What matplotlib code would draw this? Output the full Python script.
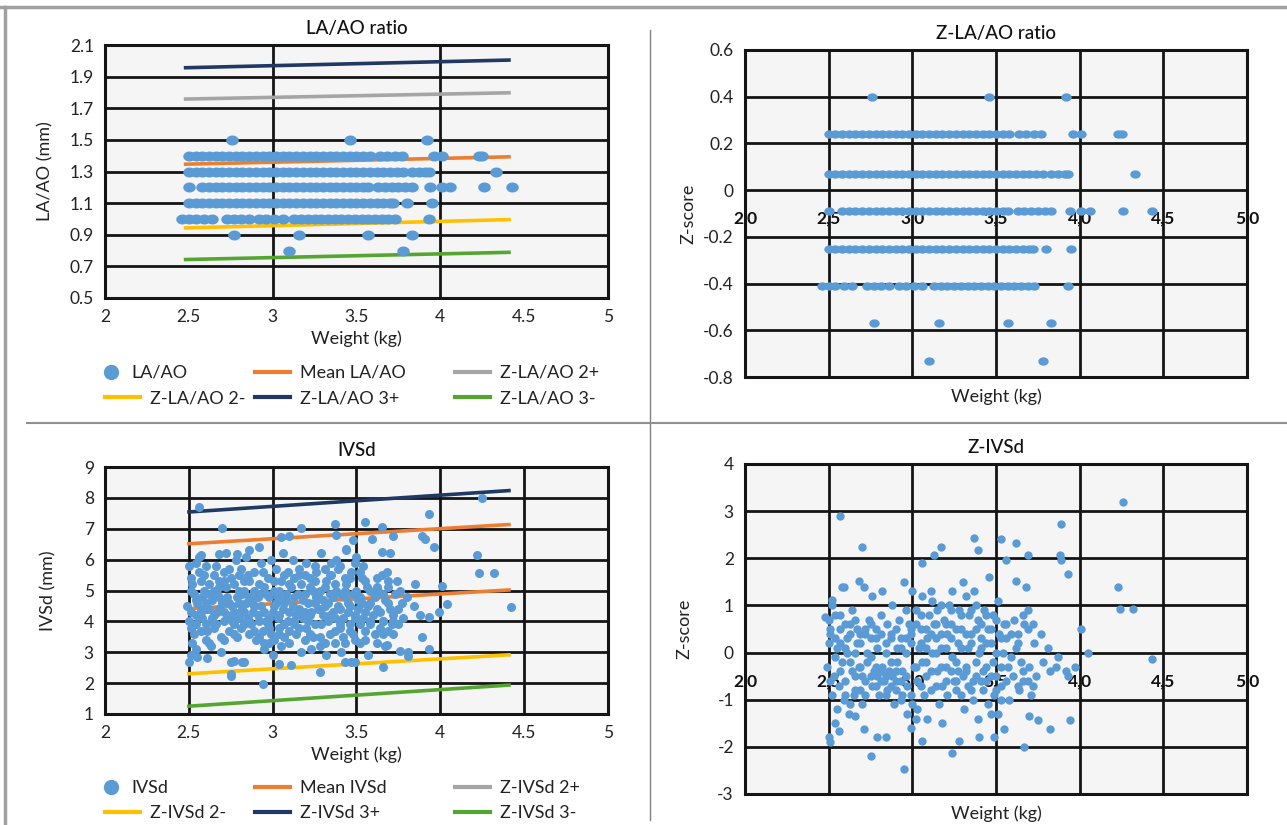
import matplotlib
matplotlib.use('Agg')
import numpy as np
import matplotlib.pyplot as plt
from matplotlib.lines import Line2D
from matplotlib.path import Path

plt.rcParams['font.family'] = ['Lato', 'DejaVu Sans']
plt.rcParams['axes.unicode_minus'] = False

# ---------------- DATA ----------------
# LA/AO ratio: discrete levels, weights of the points on each level
laao_levels = [1.5, 1.4, 1.3, 1.2, 1.1, 1.0, 0.9, 0.8]
z_laao_levels = [0.40, 0.24, 0.07, -0.09, -0.25, -0.41, -0.57, -0.73]
w_15 = [2.76, 3.46, 3.92]
w_14 = [2.50, 2.54, 2.58, 2.62, 2.66, 2.70, 2.74, 2.78, 2.82, 2.86, 2.90, 2.94,
        2.98, 3.02, 3.06, 3.10, 3.14, 3.18, 3.22, 3.26, 3.30, 3.34, 3.38, 3.42,
        3.46, 3.50, 3.54, 3.58, 3.64, 3.68, 3.73, 3.77, 3.96, 4.01, 4.23, 4.25]
w_13 = [2.50, 2.54, 2.58, 2.62, 2.66, 2.70, 2.74, 2.78, 2.82, 2.86, 2.90, 2.94,
        2.98, 3.02, 3.06, 3.10, 3.14, 3.18, 3.22, 3.26, 3.30, 3.34, 3.38, 3.42,
        3.46, 3.50, 3.54, 3.58, 3.62, 3.66, 3.70, 3.74, 3.78, 3.83, 3.87, 3.91,
        3.93, 4.33]
w_12 = [2.50, 2.58, 2.62, 2.66, 2.70, 2.74, 2.78, 2.82, 2.86, 2.90, 2.94, 2.98,
        3.02, 3.06, 3.10, 3.14, 3.18, 3.22, 3.26, 3.30, 3.34, 3.38, 3.42, 3.46,
        3.50, 3.54, 3.57, 3.63, 3.67, 3.71, 3.75, 3.79, 3.83, 3.94, 4.01, 4.06,
        4.26, 4.43]
w_11 = [2.50, 2.54, 2.58, 2.62, 2.66, 2.70, 2.74, 2.78, 2.82, 2.86, 2.90, 2.94,
        2.98, 3.02, 3.06, 3.10, 3.14, 3.18, 3.22, 3.26, 3.30, 3.34, 3.38, 3.42,
        3.46, 3.50, 3.54, 3.58, 3.62, 3.66, 3.70, 3.72, 3.80, 3.95]
w_10 = [2.46, 2.50, 2.54, 2.59, 2.64, 2.73, 2.77, 2.81, 2.86, 2.92, 2.96, 3.01,
        3.06, 3.13, 3.17, 3.21, 3.25, 3.29, 3.33, 3.37, 3.41, 3.45, 3.49, 3.53,
        3.57, 3.61, 3.65, 3.69, 3.73, 3.93]
w_09 = [2.77, 3.16, 3.57, 3.83]
w_08 = [3.10, 3.78]
laao_weights = [w_15, w_14, w_13, w_12, w_11, w_10, w_09, w_08]

# reference lines (start / end weight)
line_w = [2.47, 4.42]
laao_mean = [1.346, 1.393]
laao_z2p = [1.758, 1.798]
laao_z2m = [0.943, 0.996]
laao_z3p = [1.956, 2.005]
laao_z3m = [0.743, 0.789]

ivsd_line_w = [2.49, 4.42]
ivsd_mean = [4.41, 5.02]
ivsd_z2p = [6.51, 7.14]
ivsd_z2m = [2.30, 2.92]
ivsd_z3p = [7.54, 8.24]
ivsd_z3m = [1.25, 1.94]

# IVSd scatter (weight kg, IVSd mm)
ivsd_weight = [
    2.50, 2.49, 2.51, 2.50, 2.52, 2.53, 2.52, 2.54, 2.53, 2.51,
    2.55, 2.56, 2.54, 2.57, 2.56, 2.58, 2.59, 2.60, 2.58, 2.59,
    2.61, 2.60, 2.62, 2.61, 2.63, 2.64, 2.63, 2.65, 2.64, 2.66,
    2.67, 2.66, 2.68, 2.67, 2.69, 2.70, 2.71, 2.69, 2.71, 2.72,
    2.73, 2.72, 2.74, 2.73, 2.75, 2.76, 2.75, 2.77, 2.76, 2.78, 2.75,
    2.79, 2.78, 2.80, 2.79, 2.81, 2.82, 2.81, 2.83, 2.82, 2.84,
    2.85, 2.84, 2.86, 2.85, 2.83, 2.88, 2.87, 2.89, 2.88, 2.86,
    2.91, 2.90, 2.92, 2.91, 2.93, 2.94, 2.93, 2.95, 2.94, 2.96,
    2.97, 2.96, 2.98, 2.97, 2.99, 3.00, 2.99, 3.01, 3.00, 3.02,
    3.03, 3.02, 3.04, 3.03, 3.05, 3.06, 3.05, 3.07, 3.06, 3.08,
    3.09, 3.08, 3.10, 3.09, 3.11, 3.12, 3.11, 3.13, 3.12, 3.14,
    3.15, 3.14, 3.16, 3.15, 3.17, 3.18, 3.17, 3.19, 3.18, 3.20,
    3.21, 3.20, 3.22, 3.21, 3.23, 3.24, 3.23, 3.25, 3.24, 3.26,
    3.27, 3.26, 3.28, 3.27, 3.29, 3.30, 3.29, 3.31, 3.30, 3.32,
    3.33, 3.32, 3.34, 3.33, 3.35, 3.36, 3.35, 3.37, 3.36, 3.38,
    3.39, 3.38, 3.40, 3.39, 3.41, 3.42, 3.41, 3.43, 3.42, 3.44,
    3.45, 3.44, 3.46, 3.45, 3.47, 3.48, 3.47, 3.49, 3.48, 3.50,
    3.51, 3.50, 3.52, 3.51, 3.53, 3.54, 3.53, 3.55, 3.54,
    3.57, 3.56, 3.58, 3.57, 3.61, 3.60, 3.62, 3.61,
    3.64, 3.63, 3.65, 3.64, 3.67, 3.66, 3.68, 3.67,
    3.70, 3.69, 3.71, 3.70, 3.73, 3.72, 3.74, 3.77, 3.76, 3.78,
    3.80, 3.81, 3.84, 3.85, 3.88, 3.89,
    2.56, 2.70, 3.17, 3.37, 3.38, 3.55, 3.65, 3.72, 3.59, 3.93,
    3.89, 3.91, 3.96, 4.25, 4.22, 4.23, 4.32, 4.42, 4.01, 4.04,
    3.99, 3.93, 2.94, 2.75, 3.04, 3.28, 3.66, 3.43, 3.49, 2.50,
    2.55, 2.82, 2.77, 3.81, 3.76, 3.93, 3.68, 3.65, 3.05, 3.10,
    2.92, 2.57, 2.68, 2.79, 3.44, 3.48,
    2.51, 2.51, 2.51, 2.54, 2.54, 2.54, 2.57, 2.57, 2.57, 2.60, 2.60, 2.60,
    2.62, 2.62, 2.62, 2.65, 2.65, 2.65, 2.68, 2.68, 2.68, 2.71, 2.71, 2.71,
    2.74, 2.74, 2.74, 2.77, 2.77, 2.77, 2.80, 2.80, 2.80, 2.83, 2.83, 2.83,
    2.86, 2.86, 2.86, 2.89, 2.89, 2.89, 2.92, 2.92, 2.92, 2.95, 2.95, 2.95,
    2.98, 2.98, 2.98, 3.01, 3.01, 3.01, 3.04, 3.04, 3.04, 3.07, 3.07, 3.07,
    3.10, 3.10, 3.10, 3.13, 3.13, 3.13, 3.16, 3.16, 3.16, 3.19, 3.19, 3.19,
    3.22, 3.22, 3.22, 3.25, 3.25, 3.25, 3.28, 3.28, 3.28, 3.31, 3.31, 3.31,
    3.34, 3.34, 3.34, 3.37, 3.37, 3.37, 3.40, 3.40, 3.40, 3.43, 3.43, 3.43,
    3.46, 3.46, 3.46, 3.49, 3.49, 3.49, 3.52, 3.52, 3.52, 3.55, 3.55, 3.55,
    3.58, 3.58, 3.58, 3.62, 3.62, 3.62, 3.66, 3.66, 3.66, 3.69, 3.69, 3.69,
    3.72, 3.72, 3.75, 3.75]
ivsd_mm = [
    4.0, 4.5, 5.4, 5.8, 3.3, 4.9, 5.2, 4.2, 3.6, 2.9,
    4.6, 5.6, 3.9, 4.3, 6.1, 4.1, 5.0, 3.4, 4.8, 5.5,
    3.7, 4.4, 5.2, 2.8, 4.0, 4.7, 3.2, 5.0, 4.1, 5.8,
    4.3, 3.9, 5.3, 4.9, 3.5, 4.6, 5.6, 3.0, 4.0, 6.2,
    4.2, 5.1, 3.7, 4.8, 2.7, 4.5, 5.4, 3.9, 4.0, 6.0, 2.3,
    4.8, 4.2, 5.0, 3.5, 5.7, 4.4, 3.8, 5.3, 4.9, 6.1,
    4.1, 4.6, 3.6, 5.5, 2.7, 4.7, 3.9, 5.0, 4.3, 6.3,
    4.2, 3.4, 5.2, 4.8, 5.9, 3.7, 4.5, 3.1, 5.6, 4.0,
    3.9, 4.9, 3.3, 5.4, 6.0, 4.3, 3.6, 5.0, 2.9, 4.6,
    4.8, 5.7, 3.8, 4.1, 3.2, 4.4, 5.3, 3.5, 6.2, 4.9,
    4.0, 4.7, 3.3, 5.6, 2.6, 4.5, 5.1, 3.9, 6.0, 4.2,
    4.9, 3.6, 5.5, 4.3, 3.0, 4.1, 5.2, 3.4, 4.7, 5.9,
    4.6, 3.8, 5.4, 4.0, 3.1, 5.0, 4.3, 5.8, 3.5, 4.8,
    4.4, 5.6, 3.2, 4.9, 6.2, 4.7, 3.9, 5.1, 4.2, 2.9,
    4.0, 5.3, 3.6, 4.6, 5.9, 4.8, 5.5, 3.3, 4.3, 6.0,
    4.5, 5.0, 3.8, 5.7, 3.0, 4.1, 4.9, 5.4, 3.5, 6.3,
    4.6, 5.2, 3.9, 4.3, 2.7, 4.9, 5.6, 4.2, 3.6, 6.1,
    4.4, 5.0, 3.3, 4.7, 5.4, 4.1, 4.6, 3.7, 5.8,
    4.5, 5.1, 3.9, 2.9, 4.8, 4.2, 5.4, 3.6,
    4.3, 5.0, 5.5, 3.8, 4.7, 4.0, 5.6, 3.2,
    4.4, 5.1, 3.9, 6.2, 4.9, 4.2, 5.3, 4.6, 5.0, 4.1,
    4.8, 3.0, 4.5, 5.2, 4.2, 3.5,
    7.70, 7.02, 7.02, 7.16, 6.81, 7.22, 7.05, 6.78, 6.68, 7.49,
    6.78, 6.68, 6.40, 7.99, 6.14, 5.57, 5.57, 4.46, 5.16, 4.57,
    4.30, 4.14, 1.97, 2.24, 2.62, 2.37, 2.51, 2.68, 2.68, 2.68,
    2.84, 2.68, 2.73, 2.89, 3.05, 3.11, 3.22, 6.24, 6.73, 6.78,
    6.40, 6.14, 6.19, 6.19, 6.35, 6.62,
    4.3, 5.0, 3.8, 4.7, 5.9, 3.1, 4.4, 5.3, 3.7, 4.6, 5.8, 3.9,
    4.9, 4.4, 3.3, 5.5, 4.2, 3.8, 4.8, 5.1, 4.4, 4.3, 5.3, 3.4,
    4.6, 5.7, 4.1, 5.2, 4.3, 3.6, 4.6, 5.5, 4.1, 5.0, 4.3, 3.9,
    4.8, 5.3, 4.0, 4.5, 5.6, 3.7, 4.0, 4.9, 3.5, 4.3, 5.1, 3.3,
    4.1, 4.8, 3.8, 4.5, 5.3, 3.4, 4.2, 5.0, 3.6, 4.6, 5.5, 3.9,
    4.3, 5.2, 3.7, 4.8, 5.4, 4.0, 4.4, 5.7, 3.8, 4.9, 5.5, 4.3,
    4.2, 5.1, 3.6, 4.6, 5.3, 3.9, 5.0, 4.4, 3.5, 4.5, 5.7, 3.3,
    4.9, 4.2, 5.5, 4.1, 5.2, 3.7, 4.4, 5.8, 3.9, 4.8, 5.0, 3.3,
    4.5, 5.4, 3.7, 4.1, 5.9, 3.4, 4.8, 5.6, 3.9, 4.3, 5.3, 3.4,
    4.6, 4.0, 5.0, 4.4, 5.1, 3.3, 4.0, 4.9, 3.6, 4.6, 5.3, 3.7,
    4.0, 3.6, 4.4, 3.9]

# Z-IVSd scatter (weight kg, Z-score)
zivsd_weight = [
    2.50, 2.49, 2.51, 2.50, 2.52, 2.53, 2.51, 2.52,
    2.55, 2.56, 2.54, 2.55, 2.58, 2.57, 2.59, 2.58,
    2.61, 2.60, 2.62, 2.61, 2.64, 2.63, 2.65, 2.64,
    2.67, 2.66, 2.68, 2.67, 2.70, 2.69, 2.71, 2.70,
    2.73, 2.72, 2.74, 2.73, 2.76, 2.75, 2.77, 2.76,
    2.79, 2.78, 2.80, 2.79, 2.82, 2.81, 2.83, 2.82,
    2.85, 2.84, 2.86, 2.85, 2.88, 2.87, 2.89, 2.88,
    2.91, 2.90, 2.92, 2.91, 2.94, 2.93, 2.95, 2.94,
    2.97, 2.96, 2.98, 2.97, 3.00, 2.99, 3.01, 3.00, 2.99,
    3.03, 3.02, 3.04, 3.03, 3.06, 3.05, 3.07, 3.06,
    3.09, 3.08, 3.10, 3.09, 3.12, 3.11, 3.13, 3.12,
    3.15, 3.14, 3.16, 3.15, 3.18, 3.17, 3.19, 3.18,
    3.21, 3.20, 3.22, 3.21, 3.24, 3.23, 3.25, 3.24,
    3.27, 3.26, 3.28, 3.27, 3.30, 3.29, 3.31, 3.30,
    3.33, 3.32, 3.34, 3.33, 3.36, 3.35, 3.37, 3.36,
    3.39, 3.38, 3.40, 3.39, 3.42, 3.41, 3.43, 3.42,
    3.45, 3.44, 3.46, 3.45, 3.48, 3.47, 3.49, 3.48,
    3.51, 3.50, 3.52, 3.51, 3.54, 3.53, 3.55, 3.57, 3.56, 3.58,
    3.61, 3.60, 3.62, 3.64, 3.63, 3.65, 3.67, 3.66, 3.68,
    3.70, 3.69, 3.71, 3.73, 3.74, 3.77, 3.78, 3.81, 3.82,
    3.86, 3.87, 3.92, 3.93, 3.97,
    2.57, 2.70, 4.26, 3.89, 3.53, 3.62, 3.69, 3.56, 3.88, 3.89,
    3.93, 3.37, 3.39, 3.17, 3.13, 3.06, 3.62, 4.23, 4.24, 4.32,
    4.43, 4.05, 4.01, 3.94, 3.82, 3.75, 3.70, 3.67, 3.49, 3.55,
    3.24, 3.28, 2.95, 2.75, 2.50, 2.56, 2.66, 2.71, 2.79, 2.84,
    3.06, 3.40, 2.48, 2.52, 2.59, 2.68,
    2.51, 2.51, 2.54, 2.54, 2.54, 2.57, 2.57, 2.57, 2.60, 2.60, 2.60,
    2.63, 2.63, 2.63, 2.66, 2.66, 2.66, 2.69, 2.69, 2.69, 2.72, 2.72, 2.72,
    2.75, 2.75, 2.75, 2.78, 2.78, 2.78, 2.81, 2.81, 2.81, 2.84, 2.84, 2.84,
    2.87, 2.87, 2.87, 2.90, 2.90, 2.90, 2.93, 2.93, 2.93, 2.96, 2.96, 2.96,
    2.99, 2.99, 2.99, 3.02, 3.02, 3.02, 3.05, 3.05, 3.05, 3.08, 3.08, 3.08,
    3.11, 3.11, 3.11, 3.14, 3.14, 3.14, 3.17, 3.17, 3.17, 3.20, 3.20, 3.20,
    3.23, 3.23, 3.23, 3.26, 3.26, 3.26, 3.29, 3.29, 3.29, 3.32, 3.32, 3.32,
    3.35, 3.35, 3.35, 3.38, 3.38, 3.38, 3.41, 3.41, 3.41, 3.44, 3.44, 3.44,
    3.47, 3.47, 3.47, 3.50, 3.50, 3.50, 3.53, 3.53, 3.53, 3.56, 3.56,
    3.59, 3.59, 3.63, 3.63, 3.66, 3.66, 3.69, 3.69, 3.72, 3.72]
zivsd_score = [
    0.7, -0.3, -1.9, 0.2, 1.0, -0.5, 0.4, -0.9,
    0.1, -0.7, 0.8, -1.2, -0.2, 0.5, -1.0, 1.4,
    0.3, -0.6, -1.3, 0.0, -0.4, 0.6, -0.9, 0.9,
    0.2, -0.8, -0.3, 0.5, -0.5, 0.4, 1.4, -1.1,
    0.0, -0.6, 0.7, -0.2, -0.7, 0.3, -0.4, 1.2,
    -0.5, 0.5, -0.9, 0.1, -0.3, 0.8, -0.6, 1.3,
    -0.8, 0.2, -0.4, 0.6, -0.5, 0.4, -1.1, 1.0,
    0.1, -0.6, 0.7, -0.2, -0.9, 0.3, 1.5, -0.4,
    -1.3, 0.0, 0.6, -0.7, -1.1, 0.4, -0.3, 1.3, -1.6,
    -0.6, 0.9, 0.1, -1.2, -0.2, 0.5, -0.9, 1.2,
    0.3, -0.5, 0.8, -1.4, 0.0, -0.8, 0.6, 1.1,
    -0.4, 0.3, -1.1, 0.9, -0.7, 0.1, 0.7, -1.5,
    0.4, -0.3, 1.0, -0.9, -0.1, 0.6, -0.6, 1.3,
    0.2, -0.8, 0.9, -0.4, -0.5, 0.5, -1.2, 1.5,
    0.1, -0.3, 0.8, -0.7, -0.6, 0.4, 1.3, -1.0,
    0.7, -0.2, 0.0, -1.4, -0.8, 0.3, 0.9, -0.4,
    0.5, -0.6, 1.6, -1.1, -0.2, 0.2, -0.9, 0.8,
    -1.3, -0.5, 0.4, 1.1, 0.0, -0.7, 0.6, -0.3, 0.3, -1.0,
    0.7, -0.5, 0.1, -0.8, 0.4, -0.2, 0.6, -0.6, 1.4,
    -0.3, 0.9, -0.9, 0.2, -0.5, 0.4, -0.2, 0.1, -0.4,
    -0.3, -0.1, -0.4, -0.5, -0.3,
    2.90, 2.23, 3.20, 2.72, 2.41, 2.33, 2.06, 1.97, 2.08, 1.97,
    1.67, 2.43, 2.18, 2.23, 2.08, 1.90, 1.51, 1.40, 0.93, 0.93,
    -0.13, 0.00, 0.51, -1.44, -1.62, -1.44, -1.34, -2.01, -1.80, -1.62,
    -2.12, -1.87, -2.48, -2.19, -1.80, -1.66, -1.34, -1.62, -1.80, -1.80,
    -1.87, -1.80, 0.76, 1.12, 1.40, 1.51,
    0.5, -0.6, -0.1, 0.3, -1.5, 0.8, -0.4, 0.2, -0.9, 0.6, 0.1,
    0.4, -0.2, -1.1, 0.7, -0.5, 0.0, -0.3, 0.2, -0.8, 0.4, -0.9, 0.5,
    -0.5, -0.1, 0.6, 0.3, -0.7, -0.3, -0.6, 0.4, -0.4, -0.5, 0.0, -0.9,
    -0.7, 0.3, -0.2, -0.4, 0.5, -0.8, -0.6, 0.1, -1.0, 0.3, -0.5, 0.9,
    -0.9, 0.2, 0.5, -0.3, 0.6, -1.4, 0.2, -0.7, 0.8, -0.2, 0.5, 0.1,
    0.4, -0.4, 1.3, 0.0, 0.6, -0.7, -0.3, 0.4, 1.0, 0.1, -0.6, 0.6,
    0.3, -0.4, 0.9, -0.6, 0.5, -0.2, 0.1, 0.8, -0.9, -0.4, 0.4, 1.2,
    0.2, -0.8, 0.9, -0.5, 0.5, 1.0, 0.1, -0.6, 0.6, -0.3, 0.8, 0.2,
    0.5, -0.5, -1.3, 0.0, -0.8, 0.7, 0.3, -0.3, -1.0, 0.6, -0.6,
    -0.1, 0.4, 0.2, -0.7, -0.4, 0.8, 0.5, -0.6, -0.7, 0.6]

weight_ticks = [2.0, 2.5, 3.0, 3.5, 4.0, 4.5, 5.0]
weight_labels_dot = ['2', '2.5', '3', '3.5', '4', '4.5', '5']
weight_labels_comma = ['2,0', '2,5', '3,0', '3,5', '4,0', '4,5', '5,0']
laao_ticks = [0.5, 0.7, 0.9, 1.1, 1.3, 1.5, 1.7, 1.9, 2.1]
zlaao_ticks = [-0.8, -0.6, -0.4, -0.2, 0.0, 0.2, 0.4, 0.6]
zlaao_labels = ['-0.8', '-0.6', '-0.4', '-0.2', '0', '0.2', '0.4', '0.6']
ivsd_ticks = [1, 2, 3, 4, 5, 6, 7, 8, 9]
zivsd_ticks = [-3, -2, -1, 0, 1, 2, 3, 4]
zivsd_labels = ['-3', '-2', '-1', '0', '1', '2', '3', '4']

# ---------------- STYLE ----------------
BLUE = '#5b9bd5'
ORANGE = '#ed7d31'
GRAY = '#a5a5a5'
YELLOW = '#ffc000'
NAVY = '#1f3864'
GREEN = '#55a630'
GRIDC = '#151515'
TXT = '#222222'
FS = 12.5

# slightly wide elliptical marker (as in the Excel export)
_th = np.linspace(0, 2 * np.pi, 41)
ELL = Path(np.column_stack([1.25 * np.cos(_th), np.sin(_th)]))

W, H = 1287, 825
fig = plt.figure(figsize=(W / 100, H / 100), dpi=100)


def add_ax(x0, y0, x1, y1):
    return fig.add_axes([x0 / W, 1 - y1 / H, (x1 - x0) / W, (y1 - y0) / H])


def style(ax, ylim, yticks, ylabels, vlines, hlines):
    ax.set_facecolor('#f5f5f5')
    ax.set_xlim(2.0, 5.0)
    ax.set_ylim(*ylim)
    ax.set_yticks(yticks)
    ax.set_yticklabels(ylabels)
    ax.set_xticks(weight_ticks)
    for y in hlines:
        ax.axhline(y, color=GRIDC, lw=2.0, zorder=1)
    for x in vlines:
        ax.axvline(x, color=GRIDC, lw=2.0, zorder=1)
    for s in ax.spines.values():
        s.set_linewidth(2.2)
        s.set_color(GRIDC)
    ax.tick_params(length=0, labelsize=FS, colors=TXT, pad=8)


def line_legend(handle, label, x_px, y_px):
    fig.legend(handles=[handle], labels=[label], loc='center left',
               bbox_to_anchor=(x_px / W, 1 - y_px / H), frameon=False,
               borderpad=0, borderaxespad=0, fontsize=FS + 0.5,
               handlelength=1.95, handletextpad=0.55, labelcolor=TXT)


def marker_legend(label, x_px, y_px):
    h = Line2D([], [], marker='o', ls='none', color=BLUE, ms=10)
    fig.legend(handles=[h], labels=[label], loc='center left',
               bbox_to_anchor=(x_px / W, 1 - y_px / H), frameon=False,
               borderpad=0, borderaxespad=0, fontsize=FS + 0.5,
               handlelength=1.0, handletextpad=0.6, labelcolor=TXT)


def lh(color):
    return Line2D([], [], color=color, lw=3)


def comma_axis(ax, pos):
    sec = ax.secondary_xaxis(pos)
    sec.set_alignment('bottom')
    sec.set_xticks(weight_ticks)
    sec.set_xticklabels(weight_labels_comma)
    for s in sec.spines.values():
        s.set_visible(False)
    sec.tick_params(length=0, pad=15, labelsize=FS, colors='#111')
    for t in sec.get_xticklabels():
        t.set_fontweight('bold')
    return sec


# ---------- Panel 1: LA/AO ratio ----------
ax1 = add_ax(105, 45, 608, 298)
style(ax1, (0.5, 2.1), laao_ticks, [f'{t:.1f}' for t in laao_ticks],
      [3.0, 4.0], laao_ticks[1:-1])
ax1.set_xticklabels(weight_labels_dot)
for col, vals in [(ORANGE, laao_mean), (GRAY, laao_z2p), (YELLOW, laao_z2m),
                  (NAVY, laao_z3p), (GREEN, laao_z3m)]:
    ax1.plot(line_w, vals, color=col, lw=2.6, zorder=2, solid_capstyle='butt')
for lev, ws in zip(laao_levels, laao_weights):
    ax1.plot(ws, [lev] * len(ws), marker=ELL, ls='none', color=BLUE, ms=9,
             mec='none', zorder=3)
ax1.set_title('LA/AO ratio', fontsize=FS + 1, color='#111', pad=8, fontweight='medium')
ax1.set_xlabel('Weight (kg)', fontsize=FS + 0.5, color=TXT, labelpad=4)
ax1.set_ylabel('LA/AO (mm)', fontsize=FS + 0.5, color=TXT, labelpad=12)

marker_legend('LA/AO', 102, 373)
line_legend(lh(YELLOW), 'Z-LA/AO 2-', 105, 398)
line_legend(lh(ORANGE), 'Mean LA/AO', 255, 373)
line_legend(lh(NAVY), 'Z-LA/AO 3+', 255, 398)
line_legend(lh(GRAY), 'Z-LA/AO 2+', 455, 373)
line_legend(lh(GREEN), 'Z-LA/AO 3-', 455, 398)

# ---------- Panel 2: Z-LA/AO ratio ----------
ax2 = add_ax(745, 50, 1247, 377)
style(ax2, (-0.8, 0.6), zlaao_ticks, zlaao_labels,
      [2.5, 3.0, 3.5, 4.0, 4.5], zlaao_ticks[1:-1])
ax2.tick_params(axis='x', labelbottom=False)
for lev, ws in zip(z_laao_levels, laao_weights):
    ax2.plot(ws, [lev] * len(ws), marker=ELL, ls='none', color=BLUE, ms=7.5,
             mec='none', zorder=3)
comma_axis(ax2, 0.8 / 1.4)
ax2.set_title('Z-LA/AO ratio', fontsize=FS + 1, color='#111', pad=8, fontweight='medium')
ax2.set_xlabel('Weight (kg)', fontsize=FS + 0.5, color=TXT, labelpad=8)
ax2.set_ylabel('Z-score', fontsize=FS + 0.5, color=TXT, labelpad=5)

# ---------- Panel 3: IVSd ----------
ax3 = add_ax(105, 467, 608, 714)
style(ax3, (1, 9), ivsd_ticks, [str(t) for t in ivsd_ticks],
      [2.5, 3.0, 3.5, 4.0, 4.5], ivsd_ticks[1:-1])
ax3.set_xticklabels(weight_labels_dot)
for col, vals in [(ORANGE, ivsd_mean), (ORANGE, ivsd_z2p), (YELLOW, ivsd_z2m),
                  (NAVY, ivsd_z3p), (GREEN, ivsd_z3m)]:
    ax3.plot(ivsd_line_w, vals, color=col, lw=2.6, zorder=2, solid_capstyle='butt')
ax3.plot(ivsd_weight, ivsd_mm, 'o', color=BLUE, ms=6.5, mec='none', zorder=3)
ax3.set_title('IVSd', fontsize=FS + 1, color='#111', pad=8, fontweight='medium')
ax3.set_xlabel('Weight (kg)', fontsize=FS + 0.5, color=TXT, labelpad=4)
ax3.set_ylabel('IVSd (mm)', fontsize=FS + 0.5, color=TXT, labelpad=20)

marker_legend('IVSd', 102, 788)
line_legend(lh(YELLOW), 'Z-IVSd 2-', 105, 813)
line_legend(lh(ORANGE), 'Mean IVSd', 255, 788)
line_legend(lh(NAVY), 'Z-IVSd 3+', 255, 813)
line_legend(lh(GRAY), 'Z-IVSd 2+', 455, 788)
line_legend(lh(GREEN), 'Z-IVSd 3-', 455, 813)

# ---------- Panel 4: Z-IVSd ----------
ax4 = add_ax(745, 464, 1247, 794)
style(ax4, (-3, 4), zivsd_ticks, zivsd_labels,
      [2.5, 3.0, 3.5, 4.0, 4.5], zivsd_ticks[1:-1])
ax4.tick_params(axis='x', labelbottom=False)
ax4.plot(zivsd_weight, zivsd_score, 'o', color=BLUE, ms=6, mec='none', zorder=3)
comma_axis(ax4, 3 / 7)
ax4.set_title('Z-IVSd', fontsize=FS + 1, color='#111', pad=8, fontweight='medium')
ax4.set_xlabel('Weight (kg)', fontsize=FS + 0.5, color=TXT, labelpad=8)
ax4.set_ylabel('Z-score', fontsize=FS + 0.5, color=TXT, labelpad=18)


# ---------- frame / dividers ----------
def fline(x0, y0, x1, y1, color, lw):
    fig.add_artist(Line2D([x0 / W, x1 / W], [1 - y0 / H, 1 - y1 / H],
                          transform=fig.transFigure, color=color, lw=lw))


fline(0, 7, W, 7, '#a0a0a0', 2.5)
fline(5, 7, 5, H, '#a0a0a0', 2.5)
fline(650, 30, 650, 820, '#808080', 1.0)
fline(27, 423, W, 423, '#909090', 1.5)

fig.savefig('out.png', dpi=100, facecolor='white')
